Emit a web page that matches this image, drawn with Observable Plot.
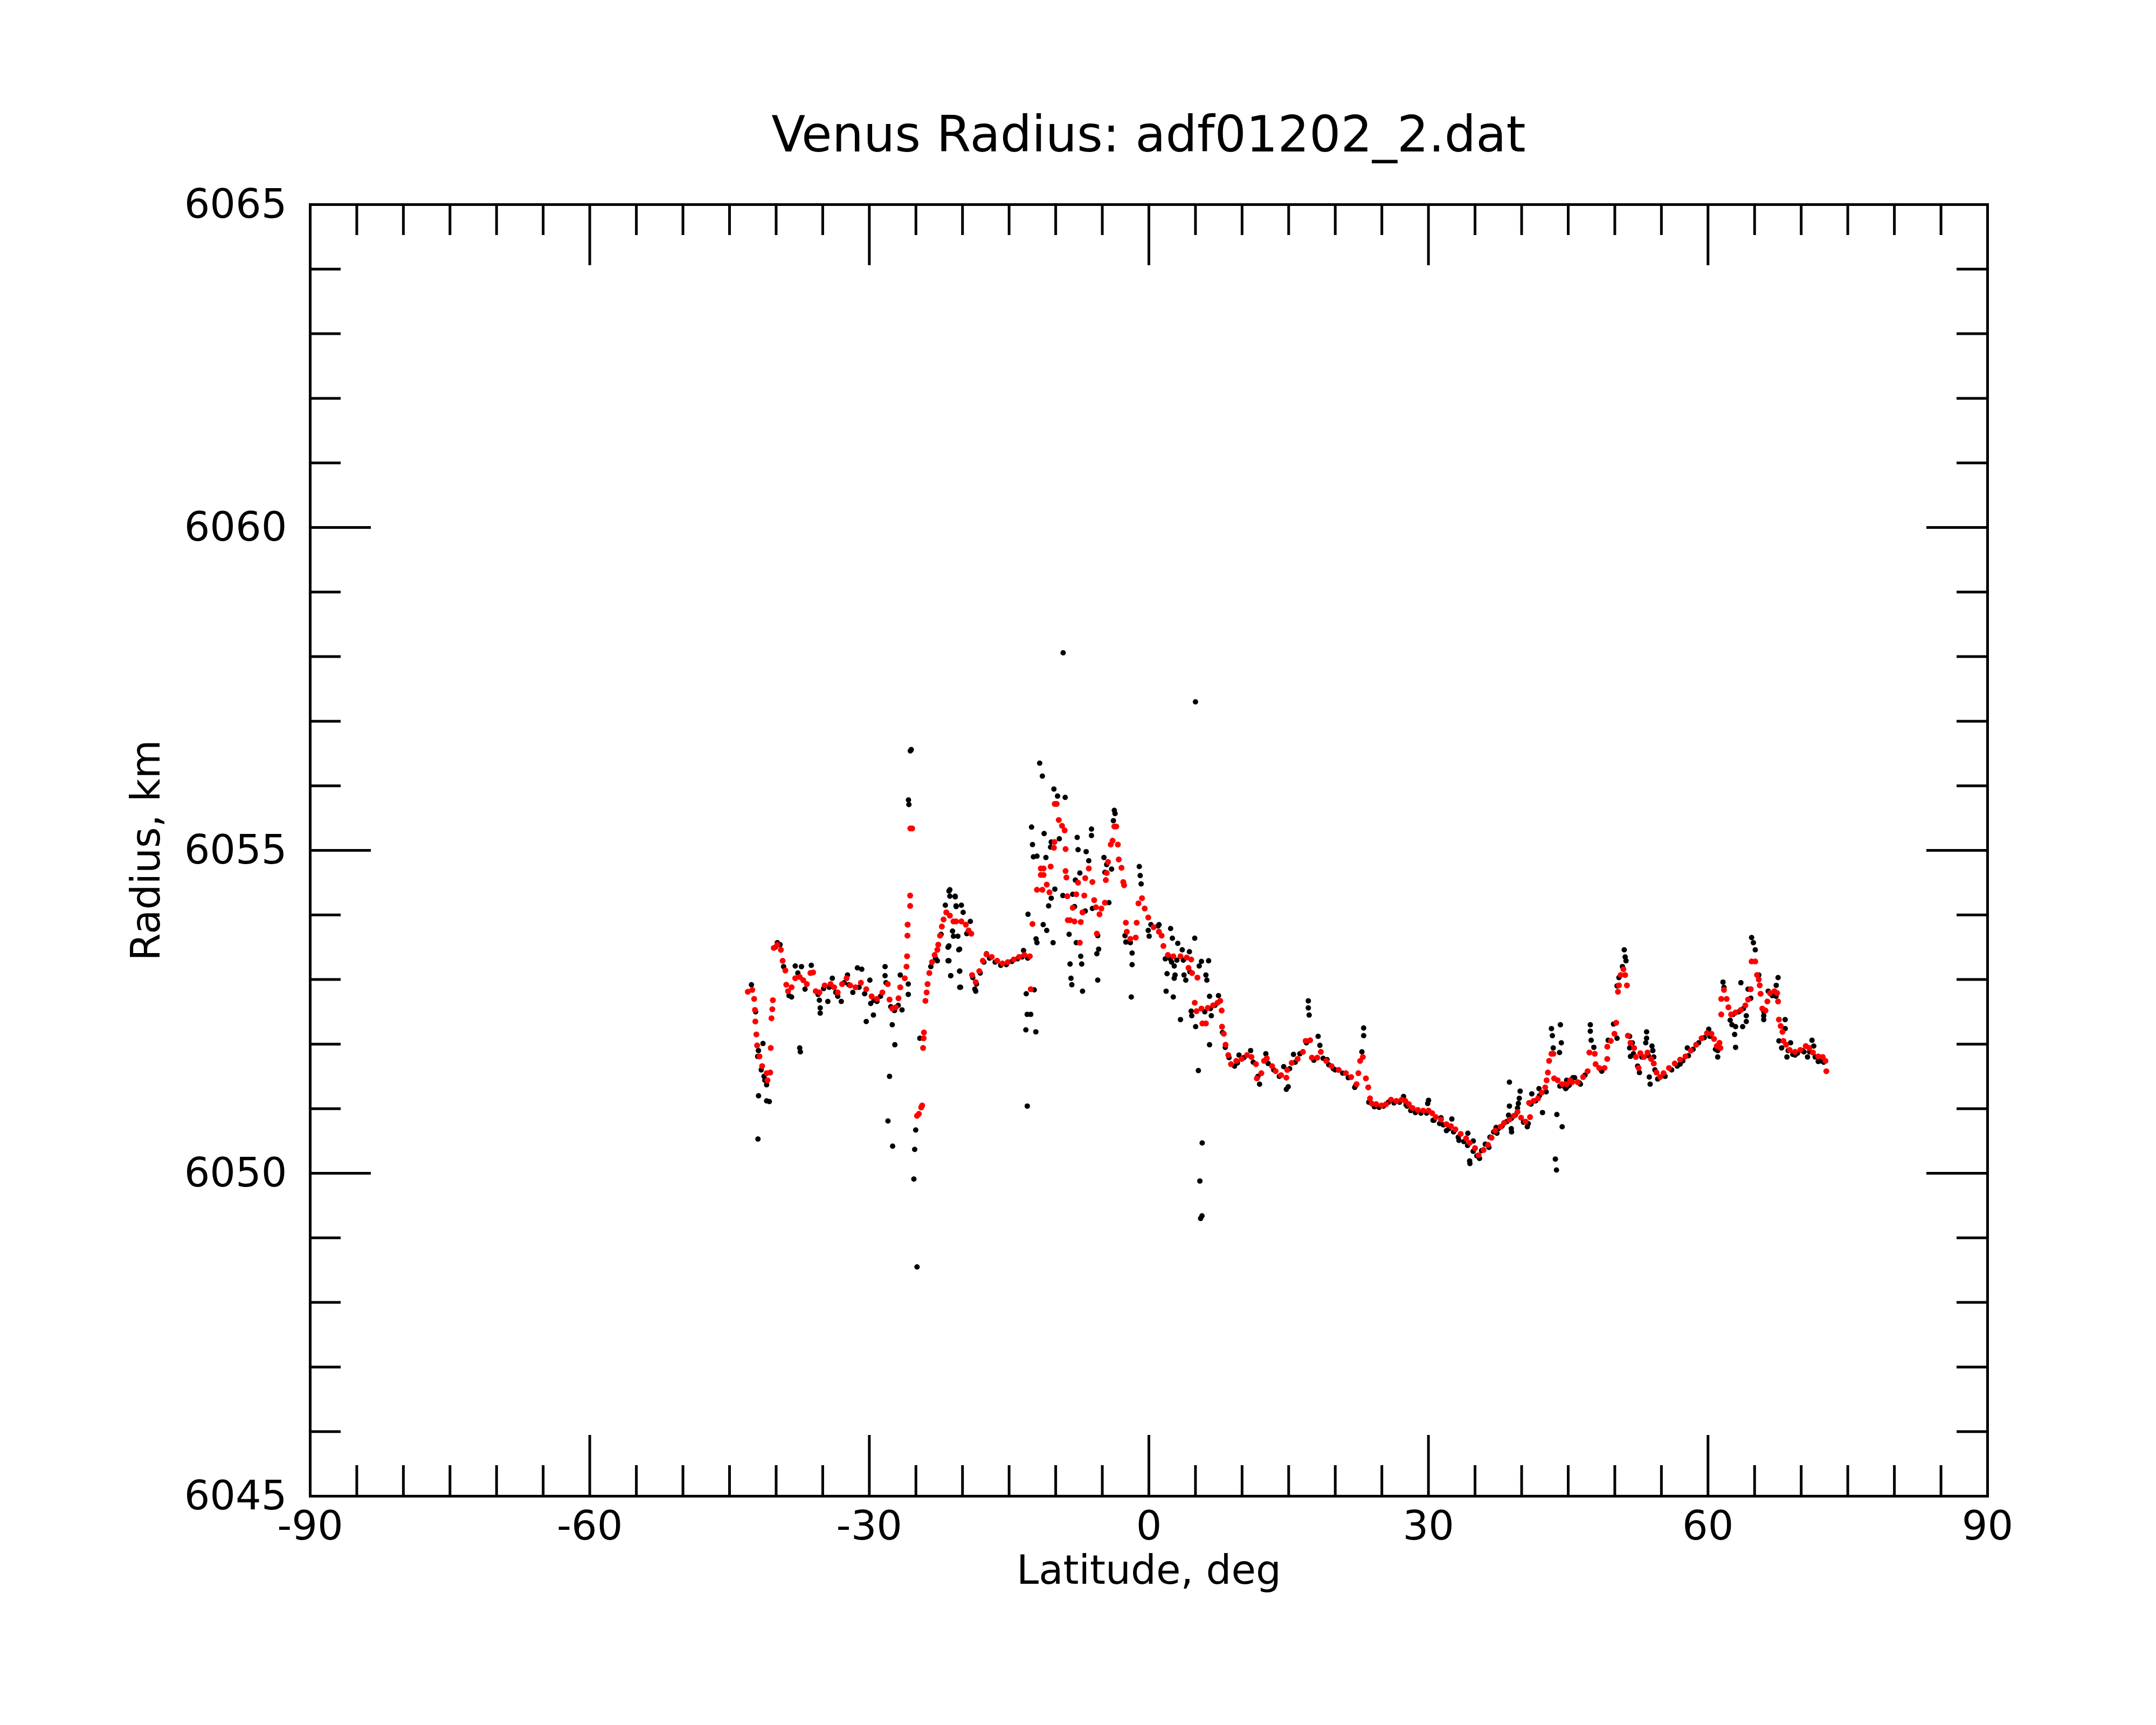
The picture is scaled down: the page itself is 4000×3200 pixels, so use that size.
<!DOCTYPE html>
<html>
<head>
<meta charset="utf-8">
<script src="https://cdn.jsdelivr.net/npm/d3@7"></script>
<script src="https://cdn.jsdelivr.net/npm/@observablehq/plot@0.6"></script>
<style>
html, body { margin: 0; padding: 0; background: #ffffff; }
#wrap { width: 4000px; height: 3200px; position: relative; font-family: "DejaVu Sans"; background: #ffffff; }
#title { position: relative; width: 4000px; height: 330px; }
#title div { position: absolute; left: 575px; width: 3112px; top: 204px; font-size: 92px; line-height: 92px; text-align: center; color: #000; white-space: nowrap; font-family: "DejaVu Sans"; }
svg { display: block; }
</style>
</head>
<body>
<div id="wrap">
  <div id="title"><div>Venus Radius: adf01202_2.dat</div></div>
  <div id="chart"></div>
</div>
<script>
// Tick values
const xMajorTicks = [-90, -60, -30, 0, 30, 60, 90];
const xMinorTicks = [-85, -80, -75, -70, -65, -55, -50, -45, -40, -35, -25, -20, -15, -10, -5, 5, 10, 15, 20, 25, 35, 40, 45, 50, 55, 65, 70, 75, 80, 85];
const yMajorTicks = [6045, 6050, 6055, 6060, 6065];
const yMinorTicks = [6046, 6047, 6048, 6049, 6051, 6052, 6053, 6054, 6056, 6057, 6058, 6059, 6061, 6062, 6063, 6064];

// Smoothed radius (red): [latitude deg, radius km]
const redPoints = [
[-43.04,6052.81],[-42.56,6052.84],[-42.36,6052.70],[-42.27,6052.53],[-42.23,6052.35],[-42.12,6052.15],[-42.04,6051.98],[-41.79,6051.81],[-41.50,6051.66],[-41.02,6051.55],
[-40.93,6051.44],[-40.63,6051.56],[-40.58,6051.94],[-40.50,6052.40],[-40.41,6052.54],[-40.35,6052.68],[-40.25,6053.49],[-39.87,6053.54],[-39.49,6053.46],[-39.30,6053.29],
[-39.01,6053.14],[-38.91,6052.92],[-38.72,6052.82],[-38.34,6052.88],[-37.95,6053.02],[-37.47,6053.04],[-37.09,6052.99],[-36.71,6052.93],[-36.32,6053.10],[-36.03,6053.11],
[-35.75,6052.82],[-35.36,6052.80],[-34.79,6052.91],[-34.16,6052.93],[-33.78,6052.88],[-33.39,6052.80],[-32.92,6052.93],[-32.44,6053.02],[-32.05,6052.91],[-31.48,6052.88],
[-30.90,6052.95],[-30.33,6052.85],[-29.75,6052.74],[-29.18,6052.70],[-28.60,6052.80],[-28.02,6052.93],[-27.83,6052.69],[-27.54,6052.55],[-27.16,6052.57],[-26.87,6052.71],
[-26.68,6052.88],[-26.20,6053.02],[-26.01,6053.20],[-25.95,6053.36],[-25.91,6053.68],[-25.88,6053.85],[-25.62,6054.14],[-25.62,6054.30],[-25.60,6055.34],[-25.40,6055.34],
[-24.88,6050.89],[-24.68,6050.92],[-24.43,6051.02],[-24.33,6051.05],[-24.23,6051.94],[-24.17,6052.09],[-24.14,6052.18],[-23.98,6052.67],[-23.85,6052.80],[-23.75,6052.93],
[-23.56,6053.10],[-23.27,6053.27],[-22.99,6053.38],[-22.70,6053.46],[-22.60,6053.54],[-22.41,6053.68],[-22.22,6053.82],[-22.03,6053.93],[-21.74,6054.04],[-21.36,6053.99],
[-20.97,6053.90],[-20.69,6053.90],[-20.12,6053.90],[-19.64,6053.85],[-19.35,6053.76],[-19.06,6053.71],[-18.97,6053.07],[-18.58,6052.96],[-18.20,6053.13],[-17.82,6053.29],
[-17.43,6053.39],[-16.86,6053.35],[-16.28,6053.29],[-15.71,6053.25],[-15.13,6053.27],[-14.50,6053.31],[-13.93,6053.35],[-13.35,6053.38],[-12.78,6053.36],[-12.68,6052.85],
[-12.49,6053.86],[-12.01,6054.39],[-11.60,6054.72],[-11.30,6054.72],[-11.60,6054.62],[-11.30,6054.62],[-11.43,6054.39],[-10.96,6054.47],[-10.67,6054.35],[-10.54,6054.75],
[-10.19,6055.04],[-10.13,6055.13],[-10.10,6055.72],[-9.90,6055.72],[-9.67,6055.47],[-9.32,6055.38],[-9.04,6055.31],[-8.94,6055.02],[-8.94,6054.68],[-8.85,6054.58],
[-8.75,6054.29],[-8.70,6053.92],[-8.46,6053.92],[-8.17,6054.11],[-7.98,6053.90],[-7.79,6054.32],[-7.60,6054.50],[-7.41,6053.57],[-7.31,6053.89],[-7.12,6054.04],
[-6.93,6054.30],[-6.83,6054.57],[-6.45,6054.72],[-6.06,6054.51],[-5.87,6054.23],[-5.68,6054.12],[-5.58,6053.71],[-5.30,6054.01],[-5.10,6054.10],[-4.72,6054.19],
[-4.62,6054.54],[-4.53,6054.65],[-4.38,6054.82],[-4.09,6055.09],[-3.90,6055.15],[-3.71,6055.37],[-3.50,6055.37],[-3.33,6055.09],[-3.23,6054.86],[-2.94,6054.73],
[-2.75,6054.51],[-2.66,6054.46],[-2.47,6053.88],[-2.37,6053.74],[-1.99,6053.63],[-1.41,6053.65],[-1.31,6053.88],[-1.12,6054.18],[-0.74,6054.26],[-0.45,6054.10],
[-0.07,6053.96],[0.51,6053.81],[1.08,6053.74],[1.37,6053.68],[1.56,6053.52],[2.04,6053.38],[2.62,6053.36],[3.39,6053.36],[4.06,6053.34],[4.54,6053.31],
[4.25,6053.18],[4.63,6053.10],[5.21,6053.03],[4.92,6052.64],[5.11,6052.51],[5.74,6052.32],[6.12,6052.32],[5.64,6052.55],[6.32,6052.56],[6.89,6052.60],
[7.37,6052.64],[7.66,6052.67],[7.81,6052.52],[7.85,6052.27],[8.04,6052.16],[8.23,6051.99],[8.52,6051.83],[8.81,6051.69],[9.38,6051.74],[9.96,6051.77],
[10.53,6051.83],[11.01,6051.80],[11.49,6051.69],[11.59,6051.47],[12.07,6051.55],[12.36,6051.74],[12.65,6051.78],[13.22,6051.66],[13.60,6051.58],[14.18,6051.52],
[14.75,6051.48],[14.85,6051.60],[15.33,6051.71],[15.96,6051.77],[16.53,6051.88],[16.82,6052.05],[17.30,6052.06],[17.49,6051.79],[18.07,6051.79],[18.45,6051.88],
[19.03,6051.74],[19.60,6051.66],[20.37,6051.60],[21.14,6051.55],[21.71,6051.49],[22.29,6051.38],[22.48,6051.55],[22.67,6051.74],[22.96,6051.80],[23.29,6051.47],
[23.54,6051.33],[23.73,6051.16],[23.92,6051.08],[24.40,6051.07],[24.97,6051.05],[25.45,6051.07],[25.98,6051.14],[26.56,6051.12],[27.13,6051.14],[27.52,6051.12],
[27.90,6051.07],[28.29,6051.01],[28.86,6050.98],[29.44,6050.97],[30.01,6050.97],[30.40,6050.93],[30.78,6050.87],[31.35,6050.83],[31.93,6050.76],[32.41,6050.73],
[32.89,6050.68],[33.46,6050.61],[34.04,6050.54],[34.42,6050.47],[35.00,6050.39],[35.38,6050.28],[35.91,6050.36],[36.39,6050.44],[36.77,6050.55],[37.16,6050.66],
[37.74,6050.72],[38.12,6050.78],[38.69,6050.83],[39.17,6050.89],[39.56,6050.95],[39.94,6050.86],[40.42,6050.80],[40.90,6050.87],[40.80,6051.09],[41.28,6051.12],
[41.76,6051.16],[42.15,6051.25],[42.53,6051.33],[42.68,6051.44],[42.82,6051.56],[42.95,6051.74],[43.20,6051.85],[43.40,6051.85],[43.49,6051.47],[43.87,6051.44],
[44.35,6051.38],[44.83,6051.38],[45.21,6051.44],[45.41,6051.41],[46.02,6051.41],[46.60,6051.49],[47.08,6051.58],[47.27,6051.87],[47.85,6051.85],[47.94,6051.69],
[48.33,6051.63],[48.90,6051.63],[49.19,6051.77],[49.19,6051.96],[49.57,6052.05],[49.96,6052.16],[50.15,6052.33],[50.34,6052.81],[50.44,6052.91],[50.63,6053.07],
[50.92,6053.16],[51.11,6053.07],[51.30,6052.91],[51.40,6052.13],[51.68,6052.02],[52.07,6051.94],[52.26,6051.80],[52.55,6051.63],[52.74,6051.86],[53.12,6051.80],
[53.51,6051.87],[53.89,6051.77],[54.18,6051.70],[54.47,6051.56],[54.85,6051.49],[55.23,6051.55],[55.81,6051.63],[56.43,6051.70],[57.01,6051.76],[57.58,6051.81],
[58.16,6051.90],[58.73,6051.99],[59.31,6052.09],[59.89,6052.17],[60.37,6052.16],[60.65,6052.08],[60.94,6051.97],[61.23,6052.02],[61.33,6051.94],[61.42,6052.46],
[61.42,6052.70],[61.71,6052.84],[62.00,6052.70],[62.19,6052.57],[62.48,6052.46],[62.96,6052.49],[63.53,6052.53],[64.01,6052.60],[64.30,6052.69],[64.59,6052.85],
[64.68,6053.28],[65.07,6053.28],[65.26,6053.07],[65.45,6053.00],[65.55,6052.91],[65.64,6052.78],[65.83,6052.55],[66.17,6052.52],[66.37,6052.66],[66.65,6052.79],
[67.13,6052.82],[67.42,6052.79],[67.52,6052.66],[67.61,6052.38],[67.80,6052.28],[67.99,6052.19],[68.09,6052.05],[68.38,6051.99],[68.76,6051.91],[69.34,6051.88],
[69.91,6051.91],[70.49,6051.97],[70.87,6051.94],[71.26,6051.87],[71.83,6051.81],[72.31,6051.80],[72.60,6051.74],[72.70,6051.58]
];

// Raw radius samples (black), scattered points: [latitude deg, radius km]
const blackScatter = [
[-42.65,6052.92],[-41.41,6052.01],[-41.89,6051.20],[-41.02,6051.12],[-40.73,6051.11],[-41.21,6051.44],[-41.02,6051.37],[-41.98,6051.81],[-39.87,6053.57],[-39.58,6053.54],
[-38.62,6052.75],[-38.34,6052.73],[-37.95,6053.21],[-37.28,6053.20],[-37.67,6053.10],[-36.23,6053.22],[-36.90,6052.85],[-37.47,6051.94],[-37.40,6051.88],[-35.36,6052.68],
[-35.27,6052.56],[-35.27,6052.48],[-34.45,6052.66],[-33.97,6053.02],[-33.01,6052.66],[-33.39,6052.74],[-32.34,6053.07],[-31.77,6052.80],[-31.28,6053.18],[-30.81,6053.16],
[-30.33,6052.35],[-29.94,6052.99],[-29.85,6052.63],[-29.56,6052.45],[-29.18,6052.66],[-28.31,6053.20],[-28.31,6053.06],[-28.21,6052.95],[-27.54,6052.30],[-27.26,6051.99],
[-27.83,6051.50],[-26.68,6053.07],[-26.49,6052.53],[-25.82,6052.93],[-25.82,6052.77],[-25.91,6053.85],[-24.58,6052.09],[-22.60,6053.54],[-22.70,6053.29],[-21.55,6053.50],
[-21.55,6053.29],[-21.26,6053.06],[-21.45,6054.37],[-21.36,6054.29],[-20.78,6054.28],[-21.84,6054.15],[-20.68,6054.13],[-21.07,6053.75],[-20.97,6053.67],[-20.40,6053.46],
[-20.30,6053.13],[-20.30,6052.88],
[-41.95,6050.53],[-25.60,6056.54],[-25.50,6056.56],[-25.80,6055.78],[-25.75,6055.71],[-25.13,6050.37],[-25.22,6049.91],[-24.88,6048.55],[-25.02,6050.67],[-28.00,6050.81],
[-27.50,6050.42],[-9.20,6058.06],[5.00,6057.30],[5.72,6050.47],[5.47,6049.88],[5.55,6049.30],[5.70,6049.34],[-13.05,6051.04],[-13.20,6052.22],[-12.13,6052.19],
[-21.36,6054.39],[-20.79,6054.29],[-20.69,6054.14],[-20.12,6054.15],[-19.93,6054.04],[-19.16,6053.90],[-19.54,6053.71],[-20.50,6053.67],[-21.46,6053.52],[-20.31,6053.47],
[-21.46,6053.29],[-20.31,6053.13],[-21.27,6053.06],[-20.21,6052.88],[-18.68,6052.85],[-18.58,6052.82],[-17.43,6053.40],[-13.45,6053.45],[-12.97,6054.01],[-13.16,6052.78],
[-12.30,6052.84],[-13.06,6052.46],[-12.68,6052.46],[-12.01,6053.57],[-12.11,6053.63],[-12.59,6055.36],[-12.49,6055.09],[-12.39,6054.90],[-12.01,6054.91],[-11.72,6056.35],
[-11.43,6056.15],[-11.24,6055.26],[-11.05,6054.89],[-10.19,6055.95],[-9.80,6055.84],[-8.98,6055.82],[-10.48,6055.13],[-9.61,6055.18],[-10.55,6055.05],[-11.34,6053.85],
[-10.96,6053.76],[-10.76,6054.14],[-10.48,6054.26],[-10.09,6054.40],[-10.28,6053.57],[-9.23,6054.30],[-8.56,6053.70],[-7.69,6055.20],[-7.60,6055.01],[-6.73,6054.98],
[-6.16,6055.33],[-6.16,6055.23],[-6.45,6054.84],[-7.41,6054.65],[-7.89,6054.54],[-8.17,6054.32],[-7.98,6054.13],[-7.31,6053.36],[-7.21,6053.24],[-8.46,6053.24],
[-8.36,6053.02],[-8.27,6052.92],[-7.12,6052.82],[-7.79,6053.57],[-6.83,6054.06],[-6.06,6054.10],[-5.49,6053.68],[-5.39,6053.47],[-5.58,6053.40],[-5.49,6052.99],
[-4.29,6054.19],[-3.71,6055.62],[-3.63,6055.57],[-3.81,6055.46],[-4.82,6054.89],[-4.53,6054.78],[-4.00,6054.71],[-4.72,6054.66],[-2.47,6053.58],[-2.56,6053.68],
[-1.99,6053.57],[-1.80,6053.41],[-1.80,6053.23],[-1.89,6052.73],[-1.03,6054.75],[-0.93,6054.61],[-0.83,6054.48],[-0.07,6053.76],[0.03,6053.67],[0.22,6053.85],
[0.99,6053.83],
[1.09,6053.85],[2.33,6053.79],[2.52,6053.64],[3.10,6053.56],[3.58,6053.46],[4.35,6053.43],[4.92,6053.64],[1.76,6053.32],[2.43,6053.27],[2.72,6053.21],
[1.95,6053.09],[2.81,6053.07],[2.72,6053.02],[3.77,6053.07],[3.96,6052.99],[5.64,6053.28],[6.41,6053.29],[5.40,6053.21],[6.12,6053.07],[6.22,6052.99],
[1.85,6052.82],[2.62,6052.73],[3.39,6052.38],[4.54,6052.51],[4.60,6052.44],[5.02,6052.27],[6.51,6052.74],[7.47,6052.75],[6.70,6052.44],[6.51,6051.99],
[5.31,6051.59],[17.11,6052.67],[17.11,6052.56],[17.20,6052.45],[18.16,6052.12],[18.35,6051.98],[23.05,6052.25],[23.05,6052.13],[22.86,6051.88],[14.75,6051.30],
[14.95,6051.34],[14.47,6051.65],[11.88,6051.38],[9.19,6051.66],[9.67,6051.83],[10.92,6051.90],[12.55,6051.85],[15.52,6051.84],[19.12,6051.76],[19.79,6051.62],
[22.09,6051.33],
[24.01,6051.07],[25.17,6051.04],[27.33,6051.19],[27.71,6051.04],[30.01,6051.13],[29.92,6051.08],[30.49,6050.82],[31.35,6050.86],[31.93,6050.66],[32.51,6050.84],
[33.27,6050.51],[34.23,6050.62],[34.81,6050.50],[34.42,6050.19],[34.45,6050.15],[35.48,6050.23],[36.49,6050.40],[37.26,6050.71],[37.35,6050.62],[38.69,6051.41],
[38.69,6051.04],[38.60,6050.90],[38.89,6050.69],[38.92,6050.64],[39.84,6051.27],[39.75,6051.16],[39.65,6051.08],[39.56,6051.01],[40.61,6050.72],[40.71,6050.77],
[41.09,6051.23],[41.86,6051.31],[42.24,6050.94],[42.63,6051.26],[43.20,6052.24],[43.30,6052.13],[43.39,6051.94],[44.16,6052.30],[44.26,6052.02],[44.07,6051.87],
[43.78,6050.91],[44.35,6050.72],[43.62,6050.22],[43.74,6050.05],[44.83,6051.44],[44.83,6051.33],[45.50,6051.48],
[44.73,6051.31],[45.69,6051.48],[46.31,6051.38],[47.37,6052.30],[47.37,6052.20],[47.46,6052.06],[47.75,6051.95],[48.52,6051.60],[49.86,6052.31],[49.29,6052.06],
[50.24,6052.09],[51.01,6053.46],[51.11,6053.35],[51.20,6053.29],[50.82,6053.20],[50.44,6053.03],[50.24,6052.90],[53.41,6052.19],[53.41,6052.09],[53.32,6052.02],
[53.99,6051.97],[54.08,6051.90],[54.18,6051.80],[51.59,6052.12],[51.88,6052.02],[51.59,6051.94],[51.68,6051.81],[52.64,6051.56],[53.70,6051.49],[53.79,6051.38],
[52.45,6051.66],[57.01,6051.69],[57.78,6051.94],[60.08,6052.23],[61.04,6051.80],[61.04,6051.90],[61.61,6052.96],[61.71,6052.88],[62.38,6052.37],[62.57,6052.30],
[62.96,6052.27],[62.86,6052.15],[62.96,6051.95],[63.53,6052.95],[63.72,6052.27],[64.11,6052.35],[64.11,6052.44],[64.30,6052.85],[64.59,6052.71],[64.68,6053.65],
[64.87,6053.57],[65.07,6053.46],[65.45,6053.07],[65.98,6052.44],[65.98,6052.38],[66.46,6052.82],[67.32,6052.91],[67.52,6053.03],[68.28,6052.38],[68.28,6052.24],
[67.61,6052.05],[67.90,6051.94],[68.47,6051.80],[68.86,6052.02],[69.34,6051.83],[70.30,6051.88],[71.16,6052.06],[71.35,6051.97],[70.68,6051.80],[71.83,6051.73],
[72.41,6051.72]
];

// Raw radius samples (black) lying just under the smoothed track
const blackTrack = [
[-42.20,6052.50],[-41.90,6051.90],[-41.60,6051.60],[-41.30,6051.50],[-40.10,6053.50],[-39.20,6053.20],
[-35.50,6052.77],[-34.90,6052.86],[-34.30,6052.88],[-33.60,6052.80],[-32.70,6052.95],[-32.20,6052.92],[-31.10,6052.88],[-30.50,6052.78],[-29.50,6052.68],[-28.80,6052.74],
[-27.70,6052.58],[-27.30,6052.52],[-26.90,6052.60],[-23.40,6053.20],[-22.90,6053.33],[-22.30,6053.70],
[-18.90,6053.03],[-18.50,6052.93],[-18.10,6053.10],[-17.70,6053.27],[-17.10,6053.33],[-16.50,6053.27],[-15.90,6053.22],[-15.30,6053.23],[-14.70,6053.28],[-14.10,6053.32],
[-13.60,6053.35],[-13.00,6053.33],
[2.30,6053.32],[3.00,6053.30],[3.70,6053.30],[4.40,6053.12],[6.00,6052.50],[6.60,6052.55],[7.10,6052.60],[7.90,6052.18],[8.20,6051.95],
[8.60,6051.79],[9.50,6051.71],[10.20,6051.79],[11.20,6051.72],[11.70,6051.50],[12.80,6051.70],[13.40,6051.60],[14.00,6051.50],[15.10,6051.62],[15.70,6051.72],
[16.20,6051.85],[16.90,6052.02],[17.70,6051.75],[18.70,6051.78],[19.30,6051.68],[20.00,6051.60],[20.80,6051.55],[21.40,6051.48],[22.20,6051.36],
[23.60,6051.10],[24.20,6051.03],[24.70,6051.02],[25.70,6051.10],[26.30,6051.09],[26.90,6051.10],[27.60,6051.06],[28.10,6050.97],[28.60,6050.94],[29.20,6050.93],
[29.80,6050.93],[30.60,6050.82],[31.20,6050.77],[31.60,6050.75],[32.20,6050.69],[32.70,6050.64],[33.20,6050.56],[33.80,6050.49],[34.20,6050.43],[34.80,6050.34],
[35.20,6050.27],[35.70,6050.35],[36.10,6050.45],[36.60,6050.56],[37.00,6050.64],[37.50,6050.69],[37.90,6050.73],[38.40,6050.80],[38.90,6050.85],[39.30,6050.90],
[40.20,6050.79],[41.00,6051.07],[41.50,6051.12],[41.90,6051.20],[44.10,6051.35],[44.60,6051.34],[45.10,6051.36],
[46.20,6051.40],[46.80,6051.52],[48.60,6051.58],[52.00,6051.85],[52.90,6051.80],[53.60,6051.82],[54.30,6051.60],
[54.60,6051.46],[55.40,6051.50],[56.10,6051.60],[56.70,6051.66],[57.30,6051.74],[57.90,6051.82],[58.40,6051.92],[59.00,6052.02],[59.60,6052.10],[60.20,6052.12],
[60.80,6051.92],[62.70,6052.46],[63.30,6052.50],[63.80,6052.55],[66.00,6052.50],[66.90,6052.75],[67.30,6052.74],
[68.60,6051.90],[69.10,6051.84],[69.60,6051.86],[70.10,6051.90],[70.90,6051.88],[71.50,6051.80],[72.10,6051.74]
];

const frameW = 3112;
const frameH = 2396;
const majorLen = 113;
const minorLen = 57;
const lineW = 5;

const chart = Plot.plot({
  width: 4000,
  height: 2870,
  marginTop: 49,
  marginBottom: 425,
  marginLeft: 575,
  marginRight: 313,
  x: {domain: [-90, 90]},
  y: {domain: [6045, 6065]},
  style: {fontFamily: "DejaVu Sans", background: "#ffffff", color: "#000000"},
  marks: [
    Plot.dot(blackTrack, {x: d => d[0], y: d => d[1], r: 5, fill: "#000000"}),
    Plot.dot(blackScatter, {x: d => d[0], y: d => d[1], r: 5, fill: "#000000"}),
    Plot.dot(redPoints, {x: d => d[0], y: d => d[1], r: 5.5, fill: "#ff0000"}),
    // bottom ticks
    Plot.ruleX(xMajorTicks, {x: d => d, insetTop: frameH - majorLen, stroke: "#000", strokeWidth: lineW}),
    Plot.ruleX(xMinorTicks, {x: d => d, insetTop: frameH - minorLen, stroke: "#000", strokeWidth: lineW}),
    // top ticks
    Plot.ruleX(xMajorTicks, {x: d => d, insetBottom: frameH - majorLen, stroke: "#000", strokeWidth: lineW}),
    Plot.ruleX(xMinorTicks, {x: d => d, insetBottom: frameH - minorLen, stroke: "#000", strokeWidth: lineW}),
    // left ticks
    Plot.ruleY(yMajorTicks, {y: d => d, insetRight: frameW - majorLen, stroke: "#000", strokeWidth: lineW}),
    Plot.ruleY(yMinorTicks, {y: d => d, insetRight: frameW - minorLen, stroke: "#000", strokeWidth: lineW}),
    // right ticks
    Plot.ruleY(yMajorTicks, {y: d => d, insetLeft: frameW - majorLen, stroke: "#000", strokeWidth: lineW}),
    Plot.ruleY(yMinorTicks, {y: d => d, insetLeft: frameW - minorLen, stroke: "#000", strokeWidth: lineW}),
    Plot.frame({stroke: "#000", strokeWidth: lineW}),
    Plot.axisX(xMajorTicks, {anchor: "bottom", tickSize: 0, tickPadding: 27, fontSize: 75, tickFormat: d => String(d), label: null}),
    Plot.axisY(yMajorTicks, {anchor: "left", tickSize: 0, tickPadding: 43, fontSize: 75, tickFormat: d => String(d), label: null}),
    Plot.text(["Latitude, deg"], {text: d => d, frameAnchor: "bottom", dy: 162, lineAnchor: "bottom", textAnchor: "middle", fontSize: 74, fill: "#000"}),
    Plot.text(["Radius, km"], {text: d => d, frameAnchor: "left", dx: -280, rotate: -90, lineAnchor: "bottom", textAnchor: "middle", fontSize: 74, fill: "#000"})
  ]
});
document.getElementById("chart").appendChild(chart);
</script>
</body>
</html>
